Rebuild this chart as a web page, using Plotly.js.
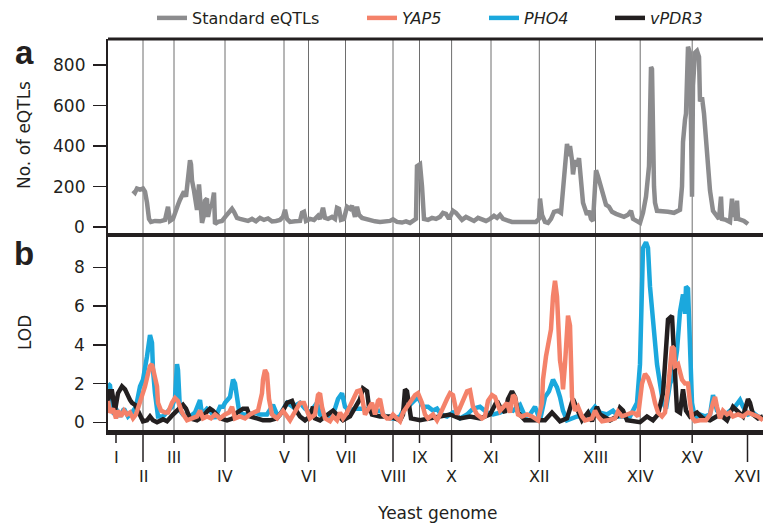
<!DOCTYPE html>
<html>
<head>
<meta charset="utf-8">
<script src="https://cdn.plot.ly/plotly-3.0.1.min.js"></script>
<style>html,body{margin:0;padding:0;background:#fff;}#chart{width:763px;height:523px;}</style>
</head>
<body>
<div id="chart"></div>
<script>
// Genome position (arbitrary marker-position units along the concatenated yeast genome)
const chromNames = ['I','II','III','IV','V','VI','VII','VIII','IX','X','XI','XII','XIII','XIV','XV','XVI'];
const chromPos   = [8, 35, 66, 117, 176, 200.5, 237.5, 285, 311.5, 343.6, 383, 431.3, 487.5, 532.2, 584.2, 639.5];
const eqtlTicks = [0, 200, 400, 600, 800];
const lodTicks  = [0, 2, 4, 6, 8];

// Panel a: number of standard eQTLs
const eqtlPos = [25,27,29,32,35,37,39,41,43,47,52,57,60,62,65,68,70,72,74,76,78,79,81,82,83,84,86,88,89,91,92,94,96,97,99,100,102,104,106,107,110,114,118,121,124,126,129,132,136,140,144,148,152,156,160,164,168,172,175,177,179,182,187,192,194,196,198,202,206,210,212,215,217,220,224,227,229,231,233,236,239,242,244,247,249,251,254,258,262,267,272,277,282,285,289,294,298,302,306,308,309,312,314,316,320,324,328,332,335,338,341,345,348,351,354,358,362,366,370,374,378,382,386,389,392,395,399,404,410,416,422,428,431,432,434,437,440,443,446,450,453,455,457,459,461,462,464,465,467,469,471,473,475,477,479,481,483,485,487,488,490,492,495,498,501,504,508,512,516,520,523,525,529,532,535,538,541,543,544,546,547,549,554,560,566,572,574,575,577,578,580,582,583,584,585,587,589,591,592,594,596,598,600,602,605,608,611,613,614,618,622,624,625,627,628,629,630,633,636,640];
const eqtlCount = [180,170,190,185,190,175,120,40,25,30,28,35,100,30,40,90,110,135,160,175,150,200,260,330,310,230,180,120,85,210,150,20,60,130,140,50,100,110,170,15,25,30,55,70,90,75,45,40,35,30,40,28,45,35,42,28,30,35,50,85,40,25,28,30,70,75,30,40,35,55,40,95,45,40,50,40,95,90,35,40,100,90,105,50,100,60,45,40,30,28,25,28,30,38,25,22,28,20,30,40,300,310,200,40,35,45,40,50,70,65,40,80,70,50,35,50,40,30,45,35,30,40,55,45,60,40,35,25,25,25,25,25,40,140,60,25,20,40,75,80,70,200,320,410,350,400,330,260,330,300,340,200,120,90,60,80,40,30,200,280,250,210,150,110,100,75,65,55,50,60,80,40,25,20,70,150,300,790,780,200,120,80,80,75,70,85,200,420,530,560,890,860,500,150,700,860,870,840,620,640,560,420,300,180,80,55,40,150,40,35,25,140,50,120,30,130,40,35,30,15];

// Panel b: LOD scores
const pho4Pos = [0,2,4,6,9,12,16,20,24,28,32,35,39,42,44,45,47,50,55,59,64,67,69,70,72,75,82,87,92,94,99,102,107,112,115,117,122,125,127,129,131,135,142,147,152,159,165,169,172,179,185,192,197,202,209,212,217,222,227,230,234,237,242,247,252,257,262,267,272,277,282,287,292,297,302,306,310,315,320,325,329,333,339,345,352,359,365,372,379,385,392,399,405,412,417,422,427,432,437,441,445,449,452,455,459,469,479,487,492,499,505,510,522,525,529,532,534,535,538,540,542,544,545,547,549,552,555,558,562,565,569,572,575,577,578,580,581,582,584,587,592,597,602,605,609,615,622,627,632,635,640,645,650,655];
const pho4LOD = [2.0,1.9,1.0,0.4,0.6,0.3,0.7,0.3,0.5,0.8,1.85,2.2,3.4,4.5,4.1,2.7,1.5,0.3,0.3,0.5,0.8,1.25,3.0,2.7,0.6,0.4,0.3,0.5,1.15,0.4,0.7,0.6,0.2,0.8,0.8,1.0,1.3,2.2,2.0,1.3,0.6,0.4,0.4,0.5,0.4,0.4,0.9,0.4,0.4,1.0,0.8,1.0,0.7,0.5,1.0,0.4,0.3,0.2,0.7,1.2,1.5,0.8,0.6,0.7,0.7,0.7,0.6,0.6,0.6,0.3,0.2,0.2,0.3,0.8,0.9,1.1,1.3,0.8,0.8,0.6,0.7,0.4,0.3,0.5,0.2,0.4,0.7,0.8,0.5,0.4,0.5,0.7,0.6,0.9,0.3,0.4,0.8,0.1,1.3,1.6,2.2,1.8,1.3,0.6,0.1,0.3,0.3,0.8,0.5,0.4,0.6,0.3,0.3,0.6,1.0,3.0,6.6,9.0,9.3,9.0,7.0,5.8,5.0,4.0,3.0,2.0,1.0,0.7,2.0,2.3,3.7,5.7,6.6,5.6,7.0,6.9,5.5,3.9,1.0,0.2,0.4,0.3,0.4,1.4,0.6,0.3,0.6,0.8,1.15,0.8,0.4,0.5,0.3,0.2];

const yap5Pos = [0,2,5,8,10,13,16,19,22,25,28,31,34,37,40,42,44,46,49,50,53,57,60,64,67,70,74,79,85,89,92,95,99,103,107,112,117,121,124,127,132,137,142,147,150,154,155,157,159,161,164,169,175,182,185,192,196,199,202,207,210,212,214,217,222,225,229,232,235,239,242,245,249,252,254,257,260,264,267,270,272,275,279,282,285,290,292,295,299,302,307,310,314,317,320,325,329,332,335,339,342,345,349,352,355,359,362,365,369,374,377,380,384,387,392,395,399,402,405,407,410,414,419,424,427,430,434,435,438,440,443,445,447,449,450,452,454,455,457,459,460,462,463,464,467,470,474,477,484,487,490,494,500,507,510,514,519,524,527,530,534,537,540,544,547,550,554,557,560,562,564,566,567,570,572,574,577,580,582,584,587,592,598,602,605,607,609,612,615,619,622,625,630,635,640,645,650,655];
const yap5LOD = [1.1,0.5,0.7,0.2,0.6,0.3,0.6,0.4,0.5,0.2,0.4,0.9,1.3,1.85,2.5,2.9,3.0,2.5,1.85,1.0,0.6,0.5,0.5,1.0,1.25,1.1,0.5,0.1,0.2,0.3,0.6,0.2,0.3,0.2,0.4,0.2,0.4,0.5,0.8,0.2,0.3,0.2,0.4,0.5,0.6,1.5,2.2,2.7,2.5,1.2,0.4,0.2,0.6,0.1,0.4,1.0,1.0,0.6,0.2,0.4,1.4,1.5,0.8,0.2,0.05,0.3,0.1,0.5,0.2,0.5,0.8,1.2,1.6,1.65,1.3,0.4,0.7,1.0,0.4,1.1,1.2,0.4,0.2,0.2,0.4,0.2,0.05,0.5,0.8,1.0,1.4,1.5,1.0,0.4,0.2,0.4,0.1,0.4,0.8,1.2,1.5,1.4,0.4,0.8,1.2,1.6,1.65,0.8,0.4,0.2,0.3,1.1,1.4,1.3,0.6,0.8,1.0,0.5,1.4,1.3,0.4,0.3,0.4,0.3,0.2,0.1,1.0,2.2,3.4,4.1,4.8,6.5,7.3,6.5,4.8,3.2,2.5,1.7,3.0,4.8,5.5,5.0,3.0,1.3,0.6,0.8,0.3,0.1,0.2,0.6,0.3,0.05,0.1,0.2,0.55,0.3,0.4,0.5,0.45,0.3,2.0,2.5,2.3,1.7,1.0,0.5,0.3,0.5,1.7,2.8,3.9,3.8,2.9,3.0,2.5,2.2,2.0,2.0,1.0,0.25,0.05,0.1,0.1,0.4,1.0,1.3,0.8,0.2,0.6,0.4,0.5,0.3,0.4,0.3,0.5,0.4,0.3,0.1];

const pdr3Pos = [0,2,4,7,10,12,14,17,20,22,24,27,29,32,35,39,42,45,49,55,59,65,69,72,75,78,82,89,95,99,102,105,112,119,125,129,132,135,139,142,149,155,162,169,175,179,184,187,192,197,202,205,207,212,217,222,225,229,235,242,247,252,255,259,261,264,272,282,287,292,295,297,299,301,303,312,322,332,342,352,362,372,382,389,392,397,400,404,407,410,417,427,437,444,448,452,459,465,469,474,480,484,489,492,502,509,512,515,519,532,539,545,550,555,557,559,560,564,565,567,569,572,575,578,582,589,595,602,612,619,625,629,635,640,642,645,650,655];
const pdr3LOD = [1.1,1.6,1.6,0.6,1.5,1.7,1.85,1.7,1.3,1.15,1.0,0.9,0.7,0.3,0.05,0.1,0.3,0.1,0.0,0.15,0.05,0.4,0.6,0.8,0.9,0.7,0.2,0.1,0.3,0.55,0.7,0.6,0.2,0.1,0.2,0.5,0.6,0.7,0.7,0.3,0.2,0.1,0.1,0.2,0.6,1.0,1.1,0.7,0.3,0.1,0.3,0.8,0.2,0.1,0.3,0.5,0.6,0.4,0.1,0.3,0.8,1.2,1.75,1.6,0.8,0.4,0.3,0.3,0.2,0.1,0.4,1.7,1.6,0.9,0.2,0.1,0.2,0.3,0.4,0.2,0.3,0.2,0.4,1.1,0.8,0.5,1.2,1.6,1.3,0.5,0.1,0.1,0.1,0.5,0.3,0.05,0.2,1.2,0.7,0.1,0.5,0.05,0.8,0.4,0.1,0.3,0.75,0.6,0.1,0.0,0.3,0.1,0.4,1.5,3.0,4.3,5.3,5.5,4.5,2.6,0.6,0.5,1.7,0.6,0.3,0.5,0.2,0.1,0.4,0.1,0.8,0.6,0.3,1.2,1.0,0.4,0.2,0.3];

const BLACK = '#231f20';
const GREY = '#8c8c8e';
const ORANGE = '#f4826a';
const BLUE = '#1ba8dd';
const FONT = 'DejaVu Sans';

const traces = [
  {x: eqtlPos, y: eqtlCount, xaxis:'x', yaxis:'y2', type:'scatter', mode:'lines', name:'Standard eQTLs',
   line:{color:GREY, width:4.5}, legendrank:1, legendwidth:165},
  {x: pho4Pos, y: pho4LOD, xaxis:'x', yaxis:'y', type:'scatter', mode:'lines', name:'<i>PHO4</i>',
   line:{color:BLUE, width:4.5}, legendrank:3, legendwidth:81},
  {x: pdr3Pos, y: pdr3LOD, xaxis:'x', yaxis:'y', type:'scatter', mode:'lines', name:'<i>vPDR3</i>',
   line:{color:BLACK, width:4.5}, legendrank:4, legendwidth:70},
  {x: yap5Pos, y: yap5LOD, xaxis:'x', yaxis:'y', type:'scatter', mode:'lines', name:'<i>YAP5</i>',
   line:{color:ORANGE, width:4.5}, legendrank:2, legendwidth:77}
];

const PW = 655, PH = 391; // plot size px, used for paper offsets
const split = 195 / PH;

const shapes = [];
// chromosome divider lines (II .. XV)
for (let i = 1; i < chromPos.length - 1; i++) {
  shapes.push({type:'line', xref:'x', yref:'paper', x0:chromPos[i], x1:chromPos[i], y0:0, y1:1,
    line:{color:'#6e6e6e', width:1}, layer:'below'});
}
// chromosome ticks below axis
chromPos.forEach((p, i) => {
  const long = (i % 2 === 1);
  shapes.push({type:'line', xref:'x', yref:'paper', x0:p, x1:p, y0:-2/PH, y1: long ? -32/PH : -13/PH,
    line:{color:BLACK, width:1.5}});
});
// top border and panel separator
shapes.push({type:'line', xref:'paper', yref:'paper', x0:0, x1:1, y0:1, y1:1, line:{color:BLACK, width:3}});
shapes.push({type:'line', xref:'paper', yref:'paper', x0:0, x1:1, y0:split, y1:split, line:{color:BLACK, width:4}});

const annotations = [];
chromNames.forEach((n, i) => {
  const lower = (i % 2 === 1);
  annotations.push({text:n, xref:'x', yref:'paper', x:chromPos[i], y: lower ? -46.5/PH : -27.5/PH,
    xanchor:'center', yanchor:'middle', showarrow:false, font:{family:FONT, size:16, color:BLACK}});
});
// y tick labels
eqtlTicks.forEach(v => annotations.push({text:String(v), xref:'paper', yref:'y2', x:-21/PW, y:v,
  xanchor:'right', yanchor:'middle', showarrow:false, font:{family:FONT, size:17, color:BLACK}}));
lodTicks.forEach(v => annotations.push({text:String(v), xref:'paper', yref:'y', x:-21/PW, y:v,
  xanchor:'right', yanchor:'middle', showarrow:false, font:{family:FONT, size:17, color:BLACK}}));

annotations.push({text:'Yeast genome', xref:'paper', yref:'paper', x:0.5023, y:-83/PH, xanchor:'center', yanchor:'middle',
  showarrow:false, font:{family:FONT, size:17, color:BLACK}});
annotations.push({text:'No. of eQTLs', xref:'paper', yref:'paper', x:-84/PW, y:(430-135)/PH, textangle:-90,
  xanchor:'center', yanchor:'middle', showarrow:false, font:{family:FONT, size:17, color:BLACK}});
annotations.push({text:'LOD', xref:'paper', yref:'paper', x:-83/PW, y:(430-333)/PH, textangle:-90,
  xanchor:'center', yanchor:'middle', showarrow:false, font:{family:FONT, size:17, color:BLACK}});
annotations.push({text:'<b>a</b>', xref:'paper', yref:'paper', x:-84/PW, y:(430-53)/PH,
  xanchor:'center', yanchor:'middle', showarrow:false, font:{family:'Liberation Sans', size:33, color:BLACK}});
annotations.push({text:'<b>b</b>', xref:'paper', yref:'paper', x:-84/PW, y:(430-253)/PH,
  xanchor:'center', yanchor:'middle', showarrow:false, font:{family:'Liberation Sans', size:33, color:BLACK}});

const layout = {
  width:763, height:523,
  margin:{l:108, r:0, t:39, b:93, pad:0},
  paper_bgcolor:'#fff', plot_bgcolor:'#fff',
  font:{family:FONT, size:16, color:BLACK},
  showlegend:true,
  legend:{orientation:'h', x:(152-108)/PW, y:(430-18)/PH, xanchor:'left', yanchor:'middle',
    font:{family:FONT, size:16, color:BLACK}, bgcolor:'rgba(0,0,0,0)', itemwidth:30, traceorder:'normal'},
  xaxis:{range:[0,655], showgrid:false, zeroline:false, showticklabels:false, ticks:'',
    showline:true, linecolor:BLACK, linewidth:5, anchor:'y', fixedrange:true},
  yaxis:{domain:[0, split], range:[-0.40, 9.67], tickvals:lodTicks, ticks:'outside', ticklen:13, tickwidth:1.5,
    tickcolor:BLACK, showgrid:false, zeroline:false, showline:true, linecolor:BLACK, linewidth:2.5, anchor:'x',
    showticklabels:false},
  yaxis2:{domain:[split, 1], range:[-39.5, 928.4], tickvals:eqtlTicks, ticks:'outside', ticklen:13, tickwidth:1.5,
    tickcolor:BLACK, showgrid:false, zeroline:false, showline:true, linecolor:BLACK, linewidth:2.5, anchor:'x',
    showticklabels:false},
  shapes: shapes,
  annotations: annotations
};

Plotly.newPlot('chart', traces, layout, {displayModeBar:false, staticPlot:true});
</script>
</body>
</html>
